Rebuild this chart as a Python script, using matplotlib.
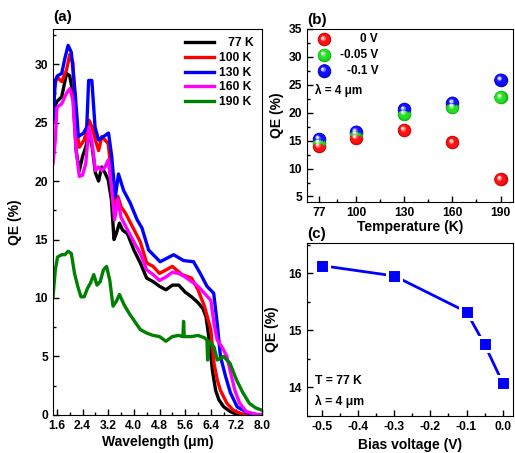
import numpy as np
import matplotlib
matplotlib.use("Agg")
import matplotlib.pyplot as plt
import matplotlib.colors as mcolors
from matplotlib.transforms import offset_copy
from matplotlib.ticker import MultipleLocator, FixedLocator

plt.rcParams['font.family'] = ['Liberation Sans', 'DejaVu Sans']
plt.rcParams['font.weight'] = 'bold'
plt.rcParams['axes.labelweight'] = 'bold'

# ---- panel (a): QE spectra at different temperatures ----
wl_77 = [1.48, 1.6, 1.75, 1.9, 2.0, 2.1, 2.2, 2.3, 2.4, 2.5, 2.6, 2.7, 2.8, 2.9, 3.0, 3.1, 3.2, 3.3,
         3.38, 3.45, 3.55, 3.65, 3.8, 4.0, 4.2, 4.4, 4.6, 4.8, 5.0, 5.2, 5.4, 5.6, 5.8, 6.0, 6.15,
         6.25, 6.35, 6.45, 6.55, 6.65, 6.8, 7.0, 7.2, 8.0]
qe_77 = [26.0, 26.8, 27.2, 29.2, 29.0, 27.5, 22.6, 20.9, 22.1, 22.9, 24.1, 22.9, 20.7, 20.0, 21.2,
         20.7, 20.1, 18.4, 15.0, 15.5, 16.4, 15.8, 15.5, 14.1, 13.0, 11.7, 11.4, 11.0, 10.7, 11.1,
         11.1, 10.5, 10.1, 9.6, 9.1, 8.4, 6.4, 3.8, 2.1, 1.3, 0.7, 0.3, 0.05, 0.0]

wl_100 = [1.48, 1.6, 1.75, 1.9, 2.0, 2.1, 2.2, 2.3, 2.45, 2.6, 2.7, 2.8, 2.9, 3.0, 3.1, 3.2, 3.3,
          3.4, 3.5, 3.6, 3.75, 3.9, 4.2, 4.4, 4.6, 4.8, 5.2, 5.5, 5.8, 6.0, 6.2, 6.4, 6.5, 6.6,
          6.7, 6.9, 7.1, 7.4, 8.0]
qe_100 = [27.4, 28.9, 28.5, 29.5, 30.8, 30.1, 24.6, 22.9, 23.5, 25.2, 24.6, 23.5, 22.6, 23.8, 23.5,
          23.2, 20.7, 17.8, 18.7, 17.8, 17.2, 16.4, 14.8, 13.0, 12.7, 12.1, 12.7, 12.0, 11.7, 10.7,
          9.3, 7.3, 4.4, 3.0, 2.1, 1.0, 0.4, 0.05, 0.0]

wl_130 = [1.48, 1.55, 1.62, 1.75, 1.85, 1.95, 2.05, 2.17, 2.27, 2.43, 2.53, 2.59, 2.69, 2.79, 2.9,
          3.05, 3.21, 3.31, 3.42, 3.52, 3.68, 3.89, 4.1, 4.25, 4.46, 4.82, 5.24, 5.55, 5.86, 6.07,
          6.28, 6.49, 6.6, 6.7, 6.86, 7.01, 7.22, 7.53, 7.8, 8.0]
qe_130 = [25.0, 28.6, 29.0, 29.2, 30.5, 31.6, 31.0, 27.5, 23.8, 24.1, 24.6, 28.6, 28.6, 24.6, 23.5,
          23.8, 24.1, 22.1, 18.6, 20.6, 19.2, 18.1, 16.7, 16.0, 14.1, 13.1, 13.7, 13.2, 13.1, 12.1,
          11.0, 10.4, 7.8, 5.0, 3.3, 1.9, 0.7, 0.2, 0.05, 0.0]

wl_160 = [1.48, 1.55, 1.6, 1.75, 1.9, 2.0, 2.1, 2.2, 2.3, 2.4, 2.5, 2.6, 2.7, 2.8, 2.9, 3.0, 3.1,
          3.2, 3.3, 3.4, 3.5, 3.6, 3.75, 4.0, 4.2, 4.4, 4.6, 4.8, 5.0, 5.2, 5.4, 5.6, 5.8, 6.0, 6.2,
          6.4, 6.5, 6.6, 6.75, 6.9, 7.0, 7.15, 7.3, 7.5, 7.8, 8.0]
qe_160 = [21.5, 23.5, 26.3, 26.6, 27.5, 27.9, 26.9, 22.6, 20.4, 20.5, 21.5, 24.6, 23.2, 20.9, 21.2,
          20.9, 21.2, 21.8, 19.5, 16.7, 18.4, 16.9, 16.1, 14.8, 13.8, 12.4, 12.0, 11.5, 11.8, 12.2,
          12.1, 11.8, 11.4, 11.0, 10.4, 9.8, 7.8, 6.4, 5.8, 5.0, 3.8, 2.1, 1.0, 0.3, 0.05, 0.0]

wl_190 = [1.48, 1.55, 1.62, 1.75, 1.85, 1.95, 2.05, 2.15, 2.25, 2.35, 2.45, 2.55, 2.65, 2.75, 2.85,
          2.95, 3.05, 3.15, 3.25, 3.35, 3.45, 3.55, 3.7, 3.85, 4.0, 4.2, 4.4, 4.6, 4.8, 5.0, 5.2,
          5.4, 5.53, 5.55, 5.57, 5.8, 6.0, 6.2, 6.28, 6.3, 6.35, 6.5, 6.6, 6.8, 7.0, 7.2, 7.4, 7.6,
          7.8, 8.0]
qe_190 = [10.1, 12.4, 13.5, 13.7, 13.7, 14.0, 13.8, 12.1, 11.0, 10.1, 10.1, 10.8, 11.3, 12.0, 11.1,
          11.4, 12.4, 12.7, 11.5, 9.3, 9.7, 10.3, 9.4, 8.7, 8.1, 7.3, 7.0, 6.8, 6.7, 6.3, 6.7,
          6.8, 6.7, 8.0, 6.7, 6.7, 6.8, 6.6, 6.4, 4.7, 6.3, 5.8, 4.7, 5.0, 4.4, 3.0, 1.9, 1.0,
          0.6, 0.4]

spectra = [("77 K", wl_77, qe_77, "black"),
           ("100 K", wl_100, qe_100, "#ff0000"),
           ("130 K", wl_130, qe_130, "#0000ff"),
           ("160 K", wl_160, qe_160, "#ff00ff"),
           ("190 K", wl_190, qe_190, "#008000")]

# ---- panel (b): QE at 4 um vs temperature ----
temps = [77, 100, 130, 160, 190]
qe_0v = [14.0, 15.5, 16.9, 14.7, 8.1]
qe_005v = [14.6, 16.2, 19.8, 21.0, 22.8]
qe_01v = [15.3, 16.6, 20.6, 21.8, 25.9]
bias_series = [("0 V", qe_0v, "#ff1010"),
               ("-0.05 V", qe_005v, "#22e022"),
               ("-0.1 V", qe_01v, "#1010ff")]

# ---- panel (c): QE vs bias at 77 K ----
bias = [-0.5, -0.3, -0.1, -0.05, 0.0]
qe_bias = [16.13, 15.95, 15.32, 14.75, 14.08]

fig = plt.figure(figsize=(5.15, 4.53), dpi=100)
ax_a = fig.add_axes([0.103, 0.084, 0.406, 0.852])
ax_b = fig.add_axes([0.596, 0.554, 0.401, 0.382])
ax_c = fig.add_axes([0.596, 0.082, 0.401, 0.382])

tick_kw = dict(direction='in', labelsize=8.7, width=1, top=False, right=False)


def ball(ax, x, y, color, s, transform=None):
    # fake shaded sphere: stacked circles getting lighter towards the upper left
    base = np.array(mcolors.to_rgb(color))
    dark = base * 0.75
    r0 = np.sqrt(s) / 2
    n = 14
    tr0 = ax.transData if transform is None else transform
    for k in range(n):
        t = k / (n - 1)
        if t < 0.25:
            c = dark + (base - dark) * (t / 0.25)
        elif t < 0.6:
            c = base
        else:
            c = base + (np.ones(3) - base) * ((t - 0.6) / 0.4)
        r = r0 * (1 - 0.88 * t)
        off = 0.3 * r0 * t
        tr = offset_copy(tr0, fig=fig, x=-off, y=off, units='points')
        ax.scatter(x, y, s=(2 * r) ** 2, color=c, linewidths=0, transform=tr,
                   clip_on=False, zorder=3 + k * 0.01)


# (a)
for lab, wl, qe, col in spectra:
    ax_a.plot(wl, qe, color=col, lw=2.4, label=lab)
ax_a.set_xlim(1.48, 8.0)
ax_a.set_ylim(0, 33)
ax_a.set_xticks(np.arange(1.6, 8.01, 0.8))
ax_a.xaxis.set_minor_locator(MultipleLocator(0.4))
ax_a.yaxis.set_major_locator(MultipleLocator(5))
ax_a.yaxis.set_minor_locator(MultipleLocator(2.5))
ax_a.tick_params(which='both', **tick_kw)
ax_a.tick_params(which='major', length=4)
ax_a.tick_params(which='minor', length=2.5)
ax_a.set_xticklabels([f"{v:.1f}" for v in np.arange(1.6, 8.01, 0.8)])
ax_a.set_xlabel("Wavelength (\u03bcm)", fontsize=10, labelpad=2)
ax_a.set_ylabel("QE (%)", fontsize=10, labelpad=9)
leg = ax_a.legend(loc='upper right', frameon=False, fontsize=8.7, handlelength=2.4,
                  handletextpad=0.4, labelspacing=0.22, borderaxespad=0.3)
for t in leg.get_texts():
    if t.get_text() == "77 K":
        t.set_text("\u2007\u200977 K")
ax_a.text(0.0, 1.012, "(a)", transform=ax_a.transAxes, fontsize=11, va='bottom')

# (b)
for lab, vals, col in bias_series:
    ball(ax_b, temps, vals, col, 95)
ax_b.set_xlim(69.5, 198)
ax_b.set_ylim(4.0, 35)
ax_b.set_xticks(temps)
ax_b.xaxis.set_minor_locator(FixedLocator([88.5, 115, 145, 175]))
ax_b.yaxis.set_major_locator(MultipleLocator(5))
ax_b.yaxis.set_minor_locator(MultipleLocator(2.5))
ax_b.tick_params(which='both', **tick_kw)
ax_b.tick_params(which='major', length=4)
ax_b.tick_params(which='minor', length=2.5)
ax_b.set_xlabel("Temperature (K)", fontsize=10, labelpad=1)
ax_b.set_ylabel("QE (%)", fontsize=10, labelpad=3)
for i, (lab, vals, col) in enumerate(bias_series):
    yy = 0.94 - i * 0.09
    ball(ax_b, [0.083], [yy], col, 95, transform=ax_b.transAxes)
    ax_b.text(0.345, yy, lab, transform=ax_b.transAxes, fontsize=8.5, ha='right', va='center')
ax_b.text(0.04, 0.647, "\u03bb = 4 \u03bcm", transform=ax_b.transAxes, fontsize=8.5,
          ha='left', va='center')
ax_b.text(0.0, 1.012, "(b)", transform=ax_b.transAxes, fontsize=11, va='bottom')

# (c)
ax_c.plot(bias, qe_bias, color='#0000ff', lw=2, marker='s', markersize=10,
          markerfacecolor='#0000ff', markeredgecolor='white', markeredgewidth=2.2, clip_on=False)
ax_c.set_xlim(-0.542, 0.03)
ax_c.set_ylim(13.5, 16.53)
ax_c.xaxis.set_major_locator(MultipleLocator(0.1))
ax_c.xaxis.set_minor_locator(MultipleLocator(0.05))
ax_c.yaxis.set_major_locator(MultipleLocator(1))
ax_c.yaxis.set_minor_locator(MultipleLocator(0.5))
ax_c.tick_params(which='both', **tick_kw)
ax_c.tick_params(which='major', length=4)
ax_c.tick_params(which='minor', length=2.5)
ax_c.set_xticklabels([f"{v:.1f}" for v in ax_c.get_xticks()])
ax_c.set_xlabel("Bias voltage (V)", fontsize=10, labelpad=4)
ax_c.set_ylabel("QE (%)", fontsize=10, labelpad=7)
ax_c.text(0.04, 0.2, "T = 77 K", transform=ax_c.transAxes, fontsize=8.7, va='center')
ax_c.text(0.04, 0.085, "\u03bb = 4 \u03bcm", transform=ax_c.transAxes, fontsize=8.7, va='center')
ax_c.text(0.0, 1.012, "(c)", transform=ax_c.transAxes, fontsize=11, va='bottom')

fig.savefig("out.png", dpi=100)
